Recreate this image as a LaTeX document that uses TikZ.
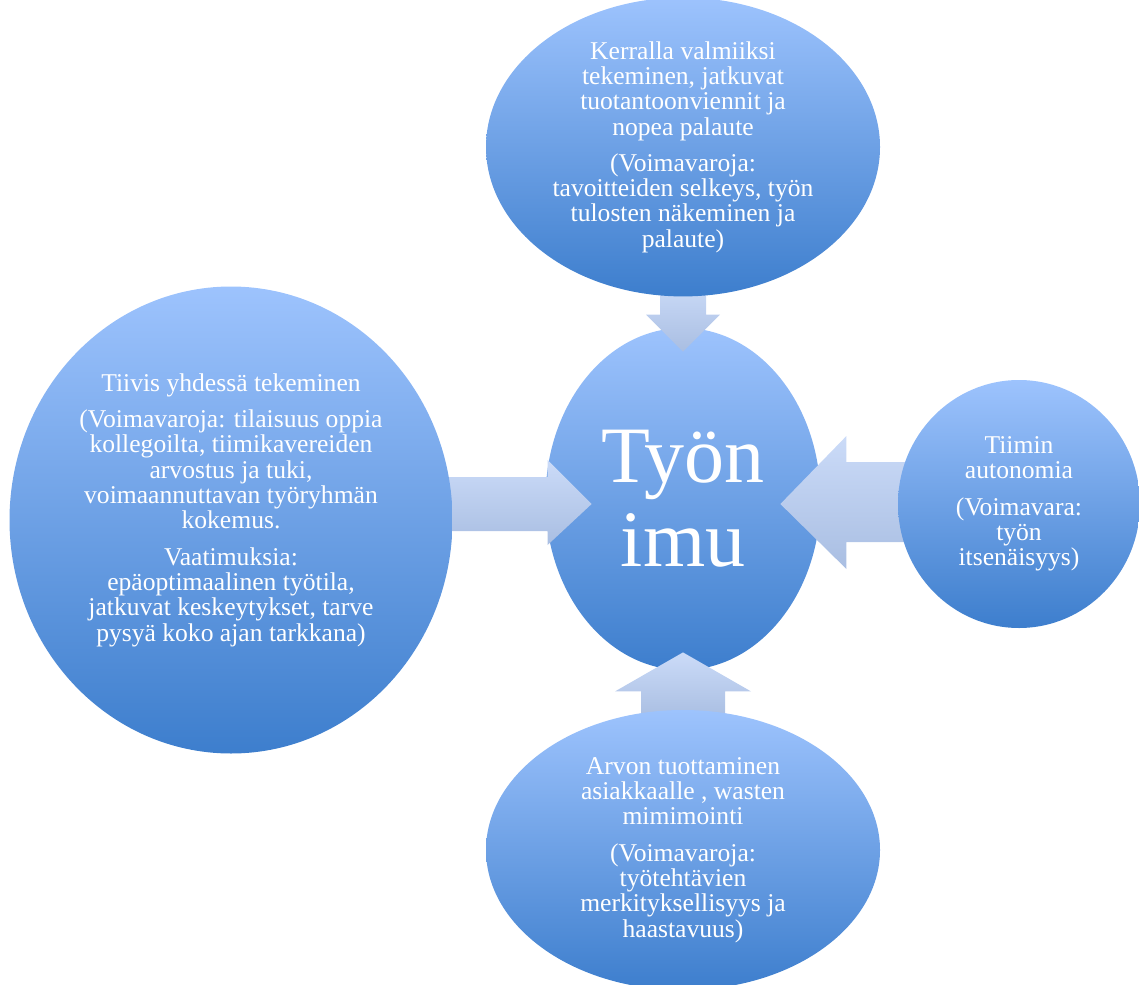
\documentclass[tikz,border=0pt]{standalone}
\usepackage{fontspec}
\setmainfont{Liberation Serif}
\usetikzlibrary{shapes.geometric,positioning,calc}
\definecolor{elltop}{HTML}{9DC3FD}
\definecolor{ellbot}{HTML}{3D7ECD}
\definecolor{arrtop}{HTML}{CBDBF8}
\definecolor{arrbot}{HTML}{A9BEE2}
\tikzset{
  bubble/.style={ellipse,inner sep=0pt,top color=elltop,bottom color=ellbot,
                 draw=none,align=center,text=white,
                 font=\fontsize{12.8}{12.65}\selectfont},
  hub/.style={bubble,font=\fontsize{40}{42}\selectfont},
  blockarr/.style={top color=arrtop,bottom color=arrbot,draw=none},
}
\newcommand{\pgap}{\\[5.5pt]}
\begin{document}
\begin{tikzpicture}[x=0.5pt,y=-0.5pt]
  \useasboundingbox (0,0) rectangle (1139,984);
  % centre
  \node[hub,minimum width=137.5pt,minimum height=171pt] (core) at (683,499) {Työn\\imu};
  % block arrows
  \path[blockarr] ($(core.north)+(-23,-45)$) -- ($(core.north)+(23,-45)$)
        -- ($(core.north)+(23,-13)$) -- ($(core.north)+(37,-13)$)
        -- ($(core.north)+(0,24)$) -- ($(core.north)+(-37,-13)$)
        -- ($(core.north)+(-23,-13)$) -- cycle;
  \path[blockarr] ($(core.south)+(-42,48)$) -- ($(core.south)+(-42,21)$)
        -- ($(core.south)+(-68,21)$) -- ($(core.south)+(0,-18)$)
        -- ($(core.south)+(68,21)$) -- ($(core.south)+(42,21)$)
        -- ($(core.south)+(42,48)$) -- cycle;
  \path[blockarr] ($(core.west)+(-106,-22)$) -- ($(core.west)+(2.5,-22)$)
        -- ($(core.west)+(2.5,-39)$) -- ($(core.west)+(46.5,5)$)
        -- ($(core.west)+(2.5,46)$) -- ($(core.west)+(2.5,32)$)
        -- ($(core.west)+(-106,32)$) -- cycle;
  \path[blockarr] ($(core.east)+(90,-37)$) -- ($(core.east)+(25.5,-37)$)
        -- ($(core.east)+(25.5,-63)$) -- ($(core.east)+(-40.5,5)$)
        -- ($(core.east)+(25.5,70)$) -- ($(core.east)+(25.5,43)$)
        -- ($(core.east)+(90,43)$) -- cycle;
  % outer bubbles
  \node[bubble,minimum width=197pt,minimum height=142.5pt] (goal) at (683,147)
    {Kerralla valmiiksi\\tekeminen, jatkuvat\\tuotantoonviennit ja\\nopea palaute\pgap
     (Voimavaroja:\\tavoitteiden selkeys, työn\\tulosten näkeminen ja\\palaute)};
  \node[bubble,minimum width=221.5pt,minimum height=233.5pt] (team) at (231,520)
    {Tiivis yhdessä tekeminen\pgap
     (Voimavaroja: tilaisuus oppia\\kollegoilta, tiimikavereiden\\arvostus ja tuki,\\voimaannuttavan työryhmän\\kokemus.\pgap
     Vaatimuksia:\\epäoptimaalinen työtila,\\jatkuvat keskeytykset, tarve\\pysyä koko ajan tarkkana)\\[0pt]\mbox{}};
  \node[bubble,minimum width=121pt,minimum height=124pt] (auto) at (1019,504)
    {Tiimin\\autonomia\pgap(Voimavara:\\työn\\itsenäisyys)};
  \node[bubble,minimum width=197pt,minimum height=140pt] (value) at (683,850)
    {Arvon tuottaminen\\asiakkaalle , wasten\\mimimointi\pgap
     (Voimavaroja:\\työtehtävien\\merkityksellisyys ja\\haastavuus)};
\end{tikzpicture}
\end{document}
